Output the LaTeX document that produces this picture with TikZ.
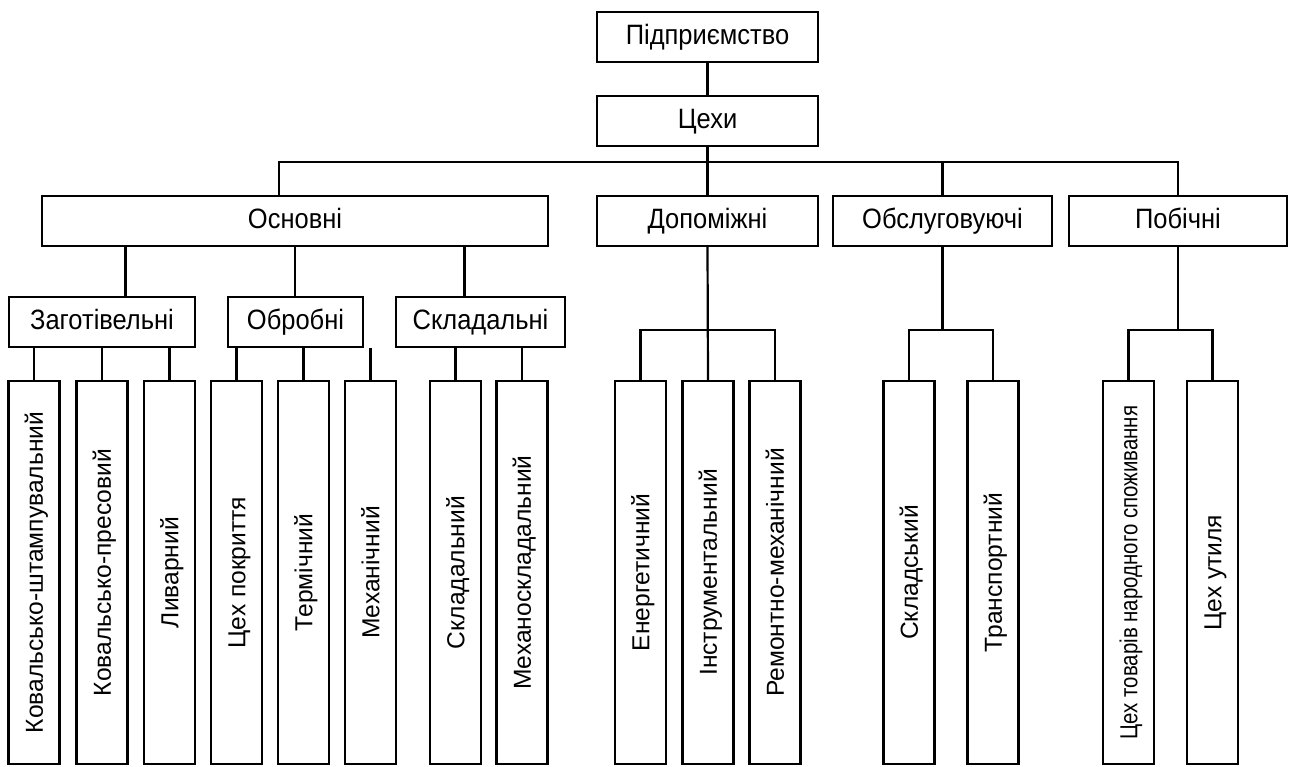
\documentclass[tikz,border=0pt]{standalone}
\usepackage{fontspec}
\setmainfont{Liberation Sans}
\newfontfamily\headfont[FakeStretch=0.91]{Liberation Sans}
\newfontfamily\tightfont[FakeStretch=0.83]{Liberation Sans}
\usetikzlibrary{calc}

\begin{document}
\begin{tikzpicture}[x=0.5pt, y=-0.5pt,
  box/.style={draw, line width=1.1pt, inner sep=0pt},
  head/.style={box, font=\headfont\fontsize{14}{16}\selectfont,
    text height=0.9em, text depth=0.18em, minimum height=25pt},
  wide/.style={head, minimum width=110.5pt},
  leaf/.style={box, font=\fontsize{12.3}{14}\selectfont,
    minimum width=25.5pt, minimum height=191.5pt},
  link/.style={line width=1.1pt}]

% frame
\useasboundingbox (0,0) rectangle (1290,766);

% top
\node[wide] (pidpr) at (707.5,37) {Підприємство};
\node[wide] (tsekhy) at (707.5,121) {Цехи};

% groups
\node[head, minimum width=253pt] (osn) at (295,221) {Основні};
\node[wide] (dop) at (707.5,221) {Допоміжні};
\node[head, minimum width=109.5pt] (obsl) at (942.5,221) {Обслуговуючі};
\node[head, minimum width=109pt] (pob) at (1178,221) {Побічні};

% subgroups
\node[head, minimum width=93pt] (zag) at (102,322) {Заготівельні};
\node[head, minimum width=67.5pt] (obr) at (295.5,322) {Обробні};
\node[head, minimum width=84.5pt] (skl) at (480.5,322) {Складальні};

% shops
\foreach \x/\n/\t in {34/k1/Ковальсько-штампувальний, 102/k2/Ковальсько-пресовий,
    169.5/k3/Ливарний, 236.5/k4/Цех покриття, 303.5/k5/Термічний,
    370.5/k6/Механічний, 455.5/k7/Складальний, 522/k8/Механоскладальний,
    640.5/k9/Енергетичний, 708/k10/Інструментальний, 775/k11/Ремонтно-механічний,
    909/k12/Складський, 993/k13/Транспортний,
    1128.5/k14/{\tightfont Цех товарів народного споживання},
    1212.5/k15/Цех утиля}
  \node[leaf] (\n) at (\x,572.5) {\rotatebox{90}{\raisebox{0pt}[0.716em][0pt]{\t}}};

% links
\coordinate (bar) at (707.5,162);
\draw[link] (pidpr.south) -- (tsekhy.north);
\draw[link] (tsekhy.south) -- (dop.north);
\draw[link] ([xshift=-8pt]osn.north) |- (bar) -| (pob.north);
\draw[link] (obsl.north) -- (obsl.north |- bar);

\coordinate (o1) at ($(osn.south west)!1/6!(osn.south east)$);
\coordinate (o2) at ($(osn.south west)!1/2!(osn.south east)$);
\coordinate (o3) at ($(osn.south west)!5/6!(osn.south east)$);
\draw[link] (o1) -- (o1 |- zag.north);
\draw[link] (o2) -- (o2 |- obr.north);
\draw[link] (o3) -- (o3 |- skl.north);

\foreach \p/\c in {zag/k1, zag/k2, zag/k3, obr/k4, obr/k5, obr/k6, skl/k7, skl/k8}
  \draw[link] (\c.north) -- (\c.north |- \p.south);

\coordinate (dbar) at (708,330);
\coordinate (obar) at (951,330);
\coordinate (pbar) at (1170,330);
\draw[link] (dop.south) -- (k10.north);
\draw[link] (k9.north) |- (dbar) -| (k11.north);
\draw[link] (obsl.south) -- (obsl.south |- obar);
\draw[link] (k12.north) |- (obar) -| (k13.north);
\draw[link] (pob.south) -- (pob.south |- pbar);
\draw[link] (k14.north) |- (pbar) -| (k15.north);

\end{tikzpicture}
\end{document}
